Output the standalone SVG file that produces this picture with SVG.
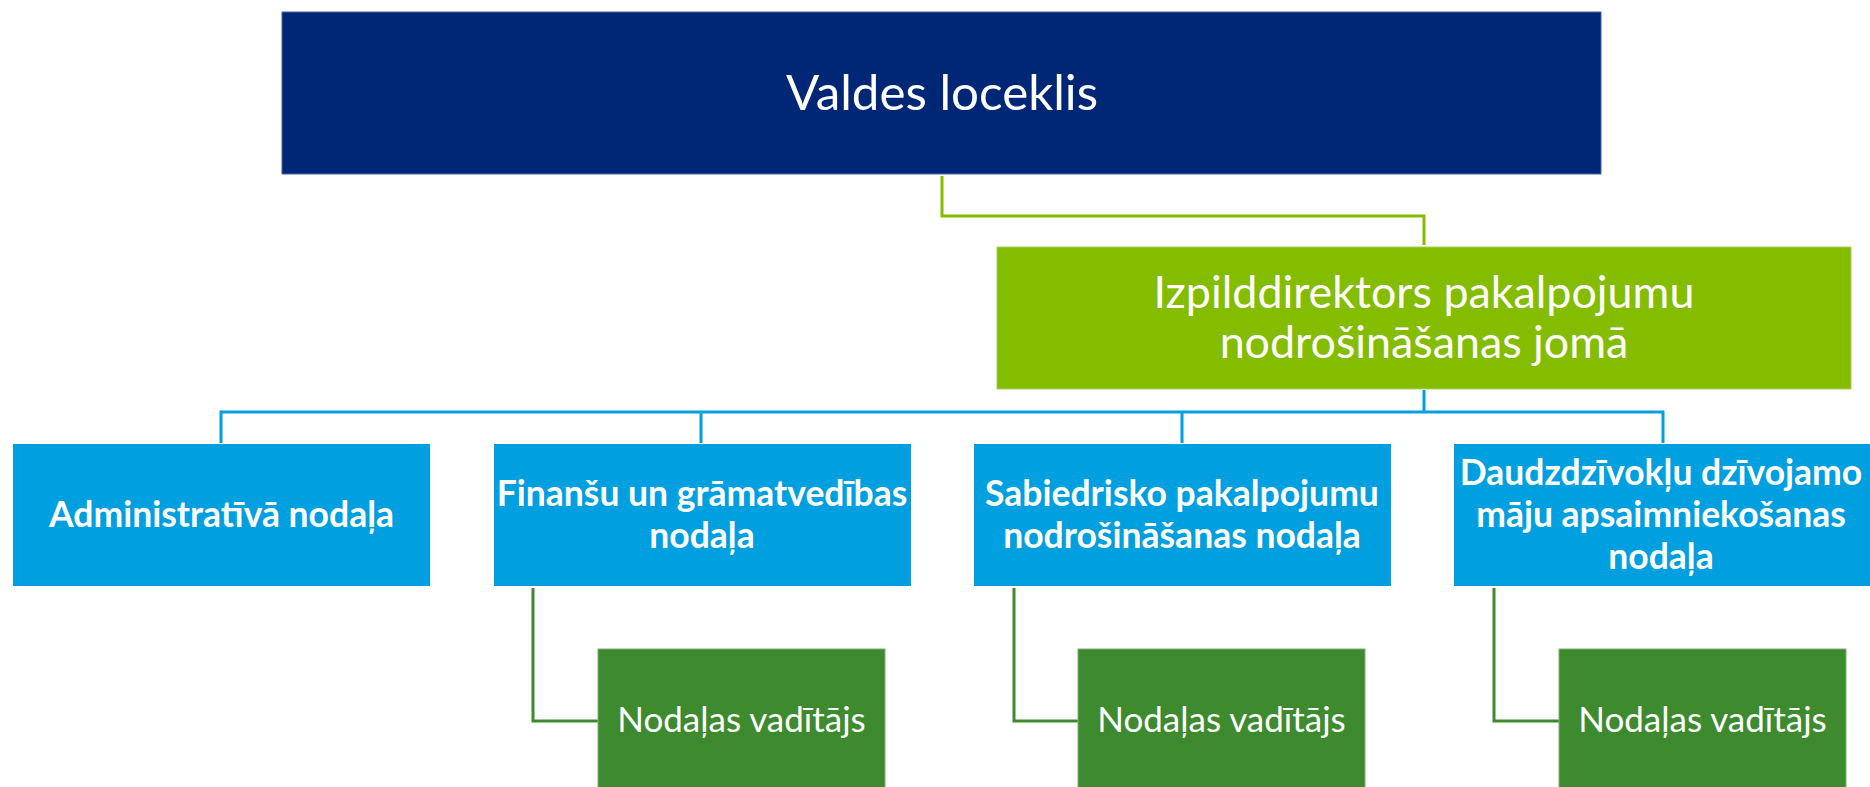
<svg xmlns="http://www.w3.org/2000/svg" width="1870" height="787" viewBox="0 0 1870 787">
<style>
.t{fill:#fff;text-anchor:middle;font-family:Lato,"Open Sans","Liberation Sans",sans-serif}
.b{font-weight:bold;font-size:35.5px}
.c{fill:none;stroke-width:3}
</style>
<rect width="1870" height="787" fill="#fff"/>
<g id="connectors">
<path class="c" stroke="#84BD00" d="M942,176 V216 H1424 V245"/>
<path class="c" stroke="#00A0E0" d="M1424,390 V412 M221,443 V412 H1663 V443 M701,412 V443 M1182,412 V443"/>
<path class="c" stroke="#3D8B2F" d="M533,588 V721 H598 M1014,588 V721 H1078 M1494,588 V721 H1559"/>
</g>
<g id="valdes">
<rect x="282" y="12" width="1319" height="162" fill="#002776" stroke="#4a65a0" stroke-width="1"/>
<text class="t" x="942" y="110" font-size="49.3">Valdes loceklis</text>
</g>
<g id="izpilddirektors">
<rect x="997" y="247" width="854" height="142" fill="#84BC00" stroke="#a8d060" stroke-width="1"/>
<text class="t" x="1424" y="308" font-size="44.8">Izpilddirektors pakalpojumu</text>
<text class="t" x="1424" y="358" font-size="44.8">nodrošināšanas jomā</text>
</g>
<g id="administrativa">
<rect x="13" y="444" width="417" height="142" fill="#009FDF"/>
<text class="t b" x="221.5" y="527">Administratīvā nodaļa</text>
</g>
<g id="finansu">
<rect x="494" y="444" width="417" height="142" fill="#009FDF"/>
<text class="t b" x="702" y="506">Finanšu un grāmatvedības</text>
<text class="t b" x="702" y="548">nodaļa</text>
</g>
<g id="sabiedrisko">
<rect x="974" y="444" width="417" height="142" fill="#009FDF"/>
<text class="t b" x="1182" y="506">Sabiedrisko pakalpojumu</text>
<text class="t b" x="1182" y="548">nodrošināšanas nodaļa</text>
</g>
<g id="daudzdzivoklu">
<rect x="1454" y="444" width="417" height="142" fill="#009FDF"/>
<text class="t b" x="1661" y="485">Daudzdzīvokļu dzīvojamo</text>
<text class="t b" x="1661" y="527">māju apsaimniekošanas</text>
<text class="t b" x="1661" y="569">nodaļa</text>
</g>
<g id="vaditajs1">
<rect x="598" y="649" width="287" height="150" fill="#3D8A2F" stroke="#7fb070" stroke-width="1"/>
<text class="t" x="741.5" y="732" font-size="35">Nodaļas vadītājs</text>
</g>
<g id="vaditajs2">
<rect x="1078" y="649" width="287" height="150" fill="#3D8A2F" stroke="#7fb070" stroke-width="1"/>
<text class="t" x="1221.5" y="732" font-size="35">Nodaļas vadītājs</text>
</g>
<g id="vaditajs3">
<rect x="1559" y="649" width="287" height="150" fill="#3D8A2F" stroke="#7fb070" stroke-width="1"/>
<text class="t" x="1702.5" y="732" font-size="35">Nodaļas vadītājs</text>
</g>
</svg>
